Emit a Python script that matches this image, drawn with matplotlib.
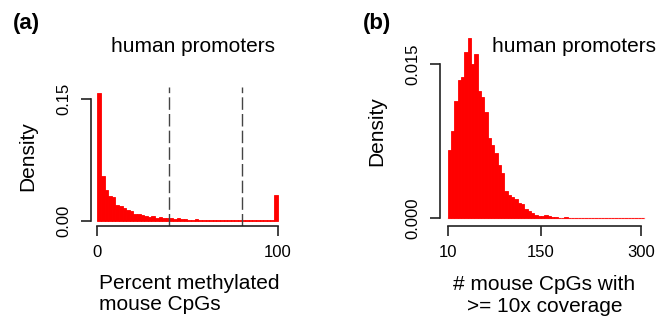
import numpy as np
import matplotlib
matplotlib.use('Agg')
import matplotlib.pyplot as plt

plt.rcParams['font.family'] = ['Liberation Sans', 'DejaVu Sans']

# (a) percent methylated mouse CpGs, 50 bins of width 2 (density)
a_edges = np.arange(0, 102, 2)
a_density = [0.1574, 0.0552, 0.0379, 0.0305, 0.0293, 0.0194, 0.0182, 0.0157, 0.0132, 0.0120,
             0.0083, 0.0083, 0.0070, 0.0058, 0.0046, 0.0058, 0.0033, 0.0046, 0.0033, 0.0033,
             0.0033, 0.0021, 0.0033, 0.0021, 0.0021, 0.0009, 0.0009, 0.0021, 0.0008, 0.0008,
             0.0008, 0.0008, 0.0008, 0.0008, 0.0008, 0.0008, 0.0008, 0.0008, 0.0008, 0.0008,
             0.0008, 0.0008, 0.0008, 0.0008, 0.0008, 0.0008, 0.0008, 0.0008, 0.0008, 0.0317]
a_cutoffs = [40, 80]

# (b) number of mouse CpGs with >= 10x coverage, bins of width 5
b_edges = np.arange(10, 310, 5)
b_density = [0.00664, 0.00852, 0.0114, 0.01345, 0.0137, 0.01614, 0.01756, 0.01497, 0.01597, 0.01238,
             0.01179, 0.01036, 0.00784, 0.00713, 0.00632, 0.00518, 0.00443, 0.00268, 0.0023, 0.0021,
             0.00188, 0.00149, 0.00139, 0.0009, 0.00071, 0.00052, 0.00032, 0.00022, 0.00022, 0.00032,
             0.00022, 0.0001, 0.0001, 0.00003, 0.00003, 0.00013, 0.00003, 0.00003, 0.0, 0.00005,
             0.0, 0.0, 0.0, 0.0, 0.0, 0.0, 0.0, 0.0, 0.0, 0.0,
             0.0, 0.00005, 0.0, 0.0, 0.0, 0.0, 0.0, 0.0, 0.00005]

W, H = 656, 321
fig = plt.figure(figsize=(W / 100, H / 100), dpi=100)


def px_axes(left, right, top, bottom):
    return fig.add_axes([left / W, (H - bottom) / H, (right - left) / W, (bottom - top) / H])


def style(ax, xb, yb):
    for s in ['top', 'right']:
        ax.spines[s].set_visible(False)
    ax.spines['left'].set_bounds(*yb)
    ax.spines['bottom'].set_bounds(*xb)
    for s in ['left', 'bottom']:
        ax.spines[s].set_color('#222222')
        ax.spines[s].set_linewidth(1.2)
    ax.tick_params(direction='out', length=7, width=1.2, color='#222222', labelsize=12)
    ax.tick_params(axis='x', pad=7)
    ax.tick_params(axis='y', pad=7)


# panel (a)
ax1 = px_axes(90.7, 284.9, 87, 226)
ax1.bar(a_edges[:-1], a_density, width=2, align='edge', color='red', edgecolor='red', linewidth=0.6)
for c in a_cutoffs:
    ax1.axvline(c, color='#444444', lw=1, dashes=(9, 3))
ax1.set_xlim(-3.66, 104)
ax1.set_ylim(-0.00655, 0.1652)
style(ax1, (0, 100), (0, 0.15))
ax1.set_xticks([0, 100])
ax1.set_yticks([0, 0.15])
ax1.set_yticklabels(['0.00', '0.15'], rotation=90, va='center', fontsize=12)
ax1.set_ylabel('Density', fontsize=15, va='center')
ax1.yaxis.set_label_coords((28 - 90.7) / 194.2, 0.5)
ax1.set_xlabel('Percent methylated\nmouse CpGs', fontsize=15, multialignment='left',
               va='center', linespacing=1.15)
ax1.xaxis.set_label_coords((189.5 - 90.7) / 194.2, -(294 - 226) / 139)

# panel (b)
ax2 = px_axes(439.5, 649, 35.6, 226)
ax2.plot([10, 305], [0, 0], color='#ffb8b8', lw=1, zorder=1)
ax2.bar(b_edges[:-1], b_density, width=5, align='edge', color='red', edgecolor='red',
        linewidth=0.6, zorder=2)
ax2.set_xlim(-2.3, 311.9)
ax2.set_ylim(-0.00075, 0.01776)
style(ax2, (10, 300), (0, 0.015))
ax2.set_xticks([10, 150, 300])
ax2.set_yticks([0, 0.015])
ax2.set_yticklabels(['0.000', '0.015'], rotation=90, va='center', fontsize=12)
ax2.set_ylabel('Density', fontsize=15, va='center')
ax2.yaxis.set_label_coords((376.7 - 439.5) / 209.5, 0.5)
ax2.set_xlabel('# mouse CpGs with\n>= 10x coverage', fontsize=15, va='center', linespacing=1.15)
ax2.xaxis.set_label_coords((544.5 - 439.5) / 209.5, -(295.5 - 226) / 190.4)

# panel letters and titles
fig.text(13 / W, 1 - 23 / H, '(a)', fontsize=16, fontweight='bold', va='center')
fig.text(363 / W, 1 - 23 / H, '(b)', fontsize=16, fontweight='bold', va='center')
fig.text(111 / W, 1 - 51.7 / H, 'human promoters', fontsize=15, va='baseline')
fig.text(491.7 / W, 1 - 51.5 / H, 'human promoters', fontsize=15, va='baseline')

fig.savefig('out.png', dpi=100)
